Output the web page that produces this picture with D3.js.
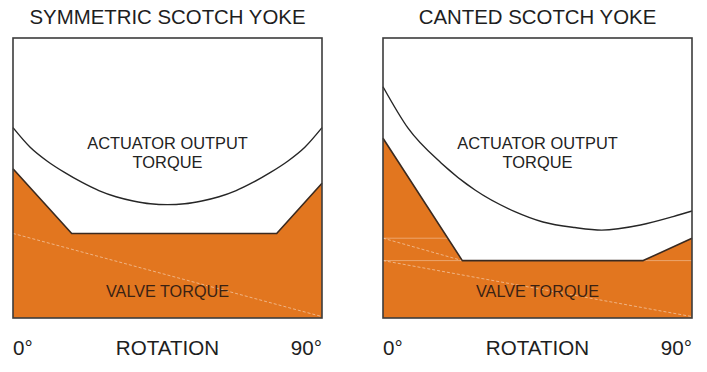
<!DOCTYPE html>
<html>
<head>
<meta charset="utf-8">
<script src="https://cdn.jsdelivr.net/npm/d3@7"></script>
<style>
  html, body { margin: 0; padding: 0; background: #ffffff; }
  svg { display: block; }
  text { font-family: "Liberation Sans", Arial, Helvetica, sans-serif; }
</style>
</head>
<body>
<div id="chart"></div>
<script>
// ---- data (rotation in degrees, torque in relative units 0-100) ----
const panelTitles = ["SYMMETRIC SCOTCH YOKE", "CANTED SCOTCH YOKE"];
const axisLabels = ["0°", "ROTATION", "90°"];
const actuatorLabel = ["ACTUATOR OUTPUT", "TORQUE"];
const valveLabel = "VALVE TORQUE";

// Symmetric yoke: actuator output torque
const symActDeg = [0, 5, 10, 15, 20, 25, 30, 35, 40, 45, 50, 55, 60, 65, 70, 75, 80, 85, 90];
const symActVal = [68, 61, 56, 52, 48.5, 45.5, 43.3, 41.8, 40.8, 40.5, 40.8, 41.8, 43.3, 45.5, 48.5, 52, 56, 61, 68];
// Symmetric yoke: valve torque
const symValveDeg = [0, 17.1, 76.8, 90];
const symValveVal = [53.3, 30.2, 30.2, 48.1];
// Symmetric yoke: faint reference line
const symRefDeg = [0, 90];
const symRefVal = [30.2, 0.5];

// Canted yoke: actuator output torque
const canActDeg = [0, 7.3, 17, 26.8, 38.4, 46.6, 55.9, 63.7, 75, 84.5, 90];
const canActVal = [82.6, 67.8, 55.3, 45.7, 38.0, 34.3, 32.3, 31.4, 33.2, 36.2, 38.2];
// Canted yoke: valve torque
const canValveDeg = [0, 23.1, 75.8, 90];
const canValveVal = [64.2, 20.5, 20.5, 28.5];
// Canted yoke: faint reference lines
const canRefADeg = [0, 23.1];
const canRefAVal = [28.5, 20.5];
const canRefBDeg = [0, 90];
const canRefBVal = [20.5, 0.5];
const canGridVal = [28.5, 20.5];

const W = 707, H = 372;
const ORANGE = "#E2761F";

const svg = d3.select("#chart").append("svg")
  .attr("width", W).attr("height", H);

const zip = (a, b) => a.map((d, i) => [d, b[i]]);

const panels = [
  { x0: 13, x1: 322, title: panelTitles[0],
    act: zip(symActDeg, symActVal), valve: zip(symValveDeg, symValveVal),
    dashed: [zip(symRefDeg, symRefVal)], grid: [] },
  { x0: 383, x1: 692, title: panelTitles[1],
    act: zip(canActDeg, canActVal), valve: zip(canValveDeg, canValveVal),
    dashed: [zip(canRefADeg, canRefAVal), zip(canRefBDeg, canRefBVal)], grid: canGridVal }
];

const yTop = 38, yBot = 318;

panels.forEach((p, pi) => {
  const x = d3.scaleLinear().domain([0, 90]).range([p.x0, p.x1]);
  const y = d3.scaleLinear().domain([0, 100]).range([yBot, yTop]);
  const g = svg.append("g");
  const cx = (p.x0 + p.x1) / 2;

  // title
  g.append("text").attr("x", cx).attr("y", 24)
    .attr("text-anchor", "middle").attr("font-size", 20.4).attr("fill", "#1e1e1e")
    .text(p.title);

  // valve torque area
  const area = d3.area().x(d => x(d[0])).y0(y(0)).y1(d => y(d[1]));
  g.append("path").datum(p.valve).attr("d", area).attr("fill", ORANGE);

  // faint horizontal lines (visible only on the orange)
  p.grid.forEach(v => {
    g.append("line").attr("x1", x(0)).attr("x2", x(90))
      .attr("y1", y(v)).attr("y2", y(v))
      .attr("stroke", "#ffffff").attr("stroke-opacity", 0.35).attr("stroke-width", 1);
  });
  // faint dashed lines
  const line = d3.line().x(d => x(d[0])).y(d => y(d[1]));
  p.dashed.forEach(dl => {
    g.append("path").datum(dl).attr("d", line)
      .attr("fill", "none").attr("stroke", "#ffffff").attr("stroke-opacity", 0.45)
      .attr("stroke-width", 1).attr("stroke-dasharray", "3,2");
  });

  // valve torque outline
  g.append("path").datum(p.valve).attr("d", line)
    .attr("fill", "none").attr("stroke", "#3a2a20").attr("stroke-width", 1.6)
    .attr("stroke-linejoin", "round");

  // actuator output curve
  const curve = d3.line().x(d => x(d[0])).y(d => y(d[1])).curve(d3.curveMonotoneX);
  g.append("path").datum(p.act).attr("d", curve)
    .attr("fill", "none").attr("stroke", "#262626").attr("stroke-width", 1.4);

  // frame
  g.append("rect").attr("x", x(0)).attr("y", y(100))
    .attr("width", x(90) - x(0)).attr("height", y(0) - y(100))
    .attr("fill", "none").attr("stroke", "#3c3c3c").attr("stroke-width", 1.6);

  // labels
  const lab = g.append("text").attr("text-anchor", "middle")
    .attr("font-size", 16.4).attr("fill", "#222");
  lab.append("tspan").attr("x", cx).attr("y", 149).text(actuatorLabel[0]);
  lab.append("tspan").attr("x", cx).attr("y", 168).text(actuatorLabel[1]);

  g.append("text").attr("x", cx).attr("y", 296.5)
    .attr("text-anchor", "middle").attr("font-size", 16.2).attr("fill", "#3a2214")
    .text(valveLabel);

  // rotation axis labels
  g.append("text").attr("x", x(0)).attr("y", 355)
    .attr("text-anchor", "start").attr("font-size", 20.6).attr("fill", "#1e1e1e")
    .text(axisLabels[0]);
  g.append("text").attr("x", cx).attr("y", 355)
    .attr("text-anchor", "middle").attr("font-size", 20.6).attr("fill", "#1e1e1e")
    .text(axisLabels[1]);
  g.append("text").attr("x", x(90)).attr("y", 355)
    .attr("text-anchor", "end").attr("font-size", 20.6).attr("fill", "#1e1e1e")
    .text(axisLabels[2]);
});
</script>
</body>
</html>
